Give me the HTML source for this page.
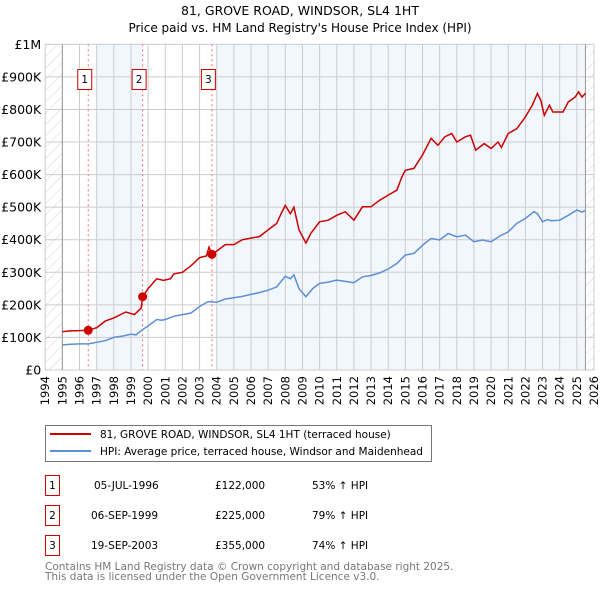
<!DOCTYPE html>
<html><head><meta charset="utf-8"><style>
body{margin:0;background:#fff;}
svg{display:block;font-family:"DejaVu Sans","Liberation Sans",sans-serif;}
</style></head><body>
<svg id="chart" width="600" height="590" viewBox="0 0 600 590" xmlns="http://www.w3.org/2000/svg">
<defs>
<pattern id="hatch" patternUnits="userSpaceOnUse" width="8" height="8" patternTransform="rotate(45)">
<line x1="0" y1="0" x2="0" y2="8" stroke="#d4d4d4" stroke-width="1"/>
</pattern>
</defs>
<text x="300" y="15" text-anchor="middle" font-size="12.5">81, GROVE ROAD, WINDSOR, SL4 1HT</text>
<text x="300" y="32" text-anchor="middle" font-size="12">Price paid vs. HM Land Registry's House Price Index (HPI)</text>
<g id="plot"></g>
<g>
<rect x="45.5" y="425.5" width="386" height="36" fill="#fff" stroke="#777"/>
<line x1="50" y1="434" x2="91" y2="434" stroke="#cc0000" stroke-width="2"/>
<text x="100" y="438" font-size="10.5">81, GROVE ROAD, WINDSOR, SL4 1HT (terraced house)</text>
<line x1="50" y1="451" x2="91" y2="451" stroke="#5b8fd6" stroke-width="2"/>
<text x="100" y="455" font-size="10.5">HPI: Average price, terraced house, Windsor and Maidenhead</text>
</g>
<g font-size="10.5">
<rect x="45.5" y="475.5" width="14" height="20" fill="#fff" stroke="#cc0000"/>
<text x="52.5" y="489" text-anchor="middle">1</text>
<text x="94" y="489">05-JUL-1996</text><text x="215" y="489">£122,000</text><text x="312" y="489">53% ↑ HPI</text>
<rect x="45.5" y="505.5" width="14" height="20" fill="#fff" stroke="#cc0000"/>
<text x="52.5" y="519" text-anchor="middle">2</text>
<text x="91" y="519">06-SEP-1999</text><text x="215" y="519">£225,000</text><text x="312" y="519">79% ↑ HPI</text>
<rect x="45.5" y="535.5" width="14" height="20" fill="#fff" stroke="#cc0000"/>
<text x="52.5" y="549" text-anchor="middle">3</text>
<text x="91" y="549">19-SEP-2003</text><text x="215" y="549">£355,000</text><text x="312" y="549">74% ↑ HPI</text>
</g>
<text x="45" y="570" font-size="10.5" fill="#777">Contains HM Land Registry data © Crown copyright and database right 2025.</text>
<text x="45" y="580" font-size="10.5" fill="#777">This data is licensed under the Open Government Licence v3.0.</text>
</svg>
<script>
const hpiYears=[1995,1995.5,1996,1996.5,1997,1997.5,1998,1998.5,1999,1999.3,1999.7,2000,2000.5,2000.8,2001,2001.5,2002,2002.5,2003,2003.5,2004,2004.5,2005,2005.5,2006,2006.5,2007,2007.5,2008,2008.3,2008.5,2008.8,2009.2,2009.6,2010,2010.5,2011,2011.5,2012,2012.5,2013,2013.5,2014,2014.5,2015,2015.5,2016,2016.5,2017,2017.5,2018,2018.5,2019,2019.5,2020,2020.5,2021,2021.5,2022,2022.5,2022.7,2023,2023.3,2023.5,2024,2024.5,2025,2025.3,2025.5];
const hpiValues=[77,79,80,80,85,90,100,104,110,108,125,135,155,153,155,165,170,175,195,210,208,218,222,226,232,238,245,255,288,280,292,250,225,250,266,270,276,272,268,286,290,298,310,327,353,358,383,404,399,419,409,414,394,399,394,411,424,450,465,486,480,455,462,458,460,475,491,485,490];
const priceYears=[1995,1995.5,1996,1996.51,1997,1997.5,1998,1998.7,1999.2,1999.6,1999.68,2000,2000.5,2000.9,2001.3,2001.5,2002,2002.5,2003,2003.4,2003.55,2003.72,2004,2004.5,2005,2005.5,2006,2006.5,2007,2007.5,2007.8,2008,2008.3,2008.5,2008.8,2009.2,2009.5,2010,2010.5,2011,2011.5,2012,2012.5,2013,2013.5,2014,2014.5,2014.8,2015,2015.5,2016,2016.5,2016.9,2017.3,2017.7,2018,2018.5,2018.8,2019.1,2019.6,2020,2020.4,2020.6,2021,2021.5,2022,2022.4,2022.7,2022.9,2023.1,2023.4,2023.6,2024.2,2024.5,2024.9,2025.1,2025.3,2025.5];
const priceValues=[118,120,121,122,130,150,160,178,170,190,225,250,280,275,280,295,300,320,345,350,377,355,365,385,385,400,405,410,430,450,485,505,480,500,430,390,420,455,460,475,486,460,501,501,521,537,552,593,613,619,660,711,690,716,726,700,716,721,675,695,680,700,683,726,741,777,813,849,828,782,813,792,792,823,838,854,838,850];
const saleYears=[1996.51,1999.68,2003.72];
const saleValues=[122,225,355];
const saleLabels=["1","2","3"];
const yTicks=[0,100,200,300,400,500,600,700,800,900,1000];
const yTickLabels=["£0","£100K","£200K","£300K","£400K","£500K","£600K","£700K","£800K","£900K","£1M"];
const xTicks=[1994,1995,1996,1997,1998,1999,2000,2001,2002,2003,2004,2005,2006,2007,2008,2009,2010,2011,2012,2013,2014,2015,2016,2017,2018,2019,2020,2021,2022,2023,2024,2025,2026];

const X0=45.2,X1=594,Y0=370,Y1=44.3;
const x=y=>X0+(y-1994)*(X1-X0)/32;
const yS=v=>Y0-v*(Y0-Y1)/1000;
const NS="http://www.w3.org/2000/svg";
const g=document.getElementById('plot');
function mk(tag,attrs,parent){const e=document.createElementNS(NS,tag);for(const k in attrs)e.setAttribute(k,attrs[k]);(parent||g).appendChild(e);return e;}

let bg=mk('rect',{x:X0,y:Y1,width:X1-X0,height:Y0-Y1,fill:'#fff'});


let s1=mk('rect',{x:x(1997),y:Y1,width:x(saleYears[1])-x(1997),height:Y0-Y1,fill:'#f2f6fd'});


let s2=mk('rect',{x:x(2004),y:Y1,width:x(2025.5)-x(2004),height:Y0-Y1,fill:'#f2f6fd'});


let h1=mk('rect',{x:X0,y:Y1,width:x(1995)-X0,height:Y0-Y1,fill:'url(#hatch)'});


let h2=mk('rect',{x:x(2025.5),y:Y1,width:X1-x(2025.5),height:Y0-Y1,fill:'url(#hatch)'});



xTicks.forEach(t=>{
 let l=mk('line',{x1:x(t),x2:x(t),y1:Y1,y2:Y0,stroke:'#ccc','stroke-width':1});
 
 
 let tx=mk('text',{x:0,y:0,'font-size':11.5,'text-anchor':'end',transform:`translate(${x(t)+4},${Y0+6}) rotate(-90)`});
 tx.textContent=t;
 
 
});
yTicks.forEach((t,i)=>{
 let l=mk('line',{x1:X0,x2:X1,y1:yS(t),y2:yS(t),stroke:'#ccc','stroke-width':1});
 
 
 let tx=mk('text',{x:X0-4,y:yS(t)+4.5,'font-size':12.5,'text-anchor':'end'});
 tx.textContent=yTickLabels[i];
 
 
});
let a1=mk('line',{x1:x(1995),x2:x(1995),y1:Y1,y2:Y0,stroke:'#999'});


let a2=mk('line',{x1:x(2025.5),x2:x(2025.5),y1:Y1,y2:Y0,stroke:'#999'});



saleYears.forEach((s,i)=>{
 let l=mk('line',{x1:x(s),x2:x(s),y1:Y1,y2:Y0,stroke:'#f07070','stroke-dasharray':'2,3'});
 
 
 let r=mk('rect',{x:x(s)-10.5,y:69.5,width:14,height:20,fill:'#fff',stroke:'#cc0000'});
 
 
 let t=mk('text',{x:x(s)-3.5,y:83,'font-size':10.5,'text-anchor':'middle'});
 t.textContent=saleLabels[i];
 
 
});

function path(xs,vs){return xs.map((t,i)=>(i?'L':'M')+x(t).toFixed(1)+','+yS(vs[i]).toFixed(1)).join('');}
let hp=mk('path',{d:path(hpiYears,hpiValues),fill:'none',stroke:'#5b8fd6','stroke-width':1.5});


let pp=mk('path',{d:path(priceYears,priceValues),fill:'none',stroke:'#cc0000','stroke-width':1.5});


saleYears.forEach((s,i)=>{
 let c=mk('circle',{cx:x(s),cy:yS(saleValues[i]),r:4.5,fill:'#cc0000'});
 
 
});
</script>
</body></html>
